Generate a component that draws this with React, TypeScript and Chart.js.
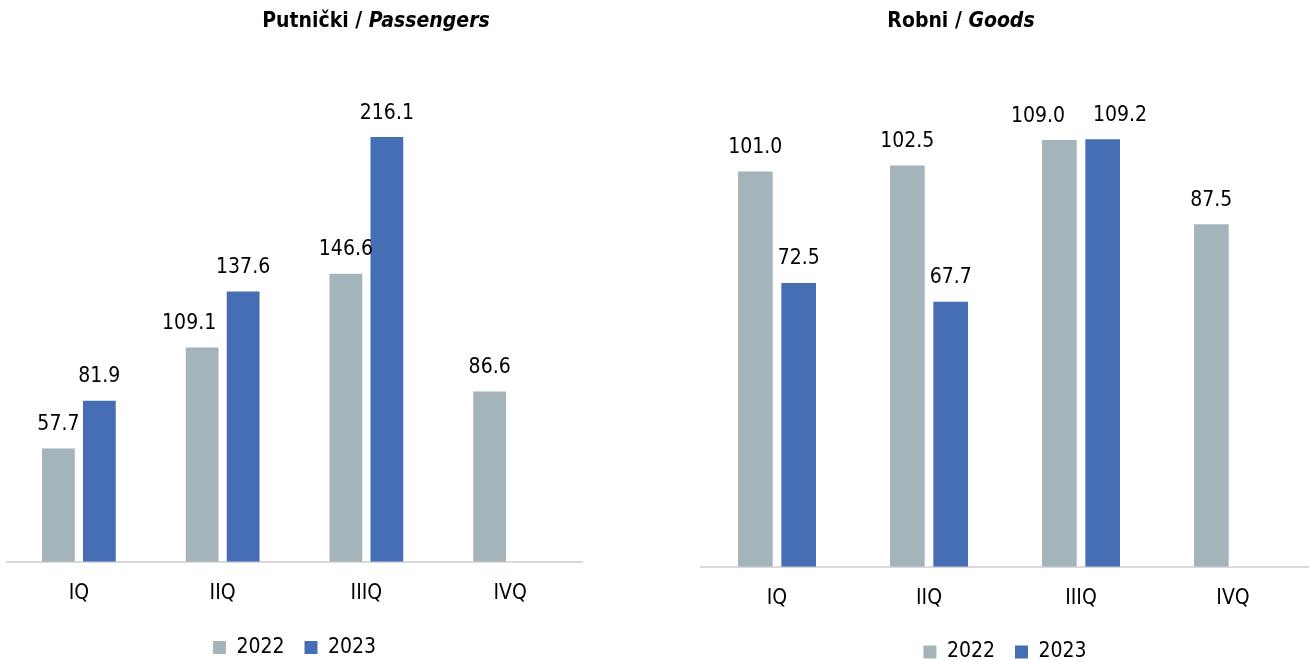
import React, { useEffect, useRef } from "react";
import { Chart, registerables } from "chart.js";

Chart.register(...registerables);

const categories = ["IQ", "IIQ", "IIIQ", "IVQ"];
const seriesNames = ["2022", "2023"];
const passengers2022 = [57.7, 109.1, 146.6, 86.6];
const passengers2023: (number | null)[] = [81.9, 137.6, 216.1, null];
const goods2022 = [101.0, 102.5, 109.0, 87.5];
const goods2023: (number | null)[] = [72.5, 67.7, 109.2, null];

const GRAY = "#A3B4BA";
const BLUE = "#466EB4";
const FONT = "'Liberation Sans Narrow', 'DejaVu Sans Condensed', 'Open Sans', sans-serif";
const CANVAS_H = 672;

// Horizontal label nudges (px) keyed "dataset-index", as placed in the original.
const passengerLabelNudge: Record<string, number> = { "0-1": -13 };
const goodsLabelNudge: Record<string, number> = {};

// Draws value labels above bars; when the two labels of one category
// collide, they are pushed apart horizontally.
const valueLabels = {
  id: "valueLabels",
  afterDatasetsDraw(chart: any, _args: any, opts: any) {
    const nudge: Record<string, number> = (opts && opts.nudge) || {};
    const ctx = chart.ctx;
    ctx.save();
    ctx.font = `21px ${FONT}`;
    ctx.fillStyle = "#000";
    ctx.textAlign = "center";
    ctx.textBaseline = "middle";
    const n = chart.data.labels.length;
    for (let j = 0; j < n; j++) {
      const items: { x: number; y: number; t: string; w: number }[] = [];
      chart.data.datasets.forEach((ds: any, i: number) => {
        const v = ds.data[j];
        if (v === null || v === undefined) return;
        const el = chart.getDatasetMeta(i).data[j];
        const t = Number(v).toFixed(1);
        items.push({ x: el.x + (nudge[`${i}-${j}`] || 0), y: el.y - 24, t, w: ctx.measureText(t).width });
      });
      if (items.length === 2) {
        const [a, b] = items;
        const vOverlap = Math.abs(a.y - b.y) < 22;
        const hOverlap = b.x - a.x < (a.w + b.w) / 2 + 4;
        if (vOverlap && hOverlap) {
          const mid = (a.x + b.x) / 2 - 2;
          const half = (a.w + b.w) / 4 + 14;
          a.x = mid - half;
          b.x = mid + half;
        }
      }
      items.forEach((it) => ctx.fillText(it.t, it.x, it.y));
    }
    ctx.restore();
  },
};

function Panel(props: {
  a: (number | null)[];
  b: (number | null)[];
  max: number;
  width: number;
  padding: { top: number; left: number; right: number; bottom: number };
  tickPad: number;
  extra: number;
  nudge: Record<string, number>;
}) {
  const ref = useRef<HTMLCanvasElement>(null);
  useEffect(() => {
    if (!ref.current) return;
    const chart = new Chart(ref.current, {
      type: "bar",
      data: {
        labels: categories,
        datasets: [
          { label: seriesNames[0], data: props.a, backgroundColor: GRAY },
          { label: seriesNames[1], data: props.b, backgroundColor: BLUE },
        ],
      },
      options: {
        animation: false,
        responsive: false,
        maintainAspectRatio: false,
        layout: { padding: props.padding },
        datasets: { bar: { barPercentage: 0.8, categoryPercentage: 0.57 } } as any,
        scales: {
          x: {
            grid: { display: false, drawTicks: false },
            border: { display: true, color: "#D9D9D9", width: 2 },
            ticks: { color: "#000", font: { size: 21, family: FONT }, padding: props.tickPad },
            afterFit: (scale: any) => {
              scale.height += props.extra;
            },
          },
          y: { display: false, min: 0, max: props.max },
        },
        plugins: {
          legend: {
            position: "bottom",
            labels: {
              color: "#000",
              font: { size: 21, family: FONT },
              boxWidth: 13,
              boxHeight: 13,
              padding: 20,
            },
          },
          tooltip: { enabled: false },
          title: { display: false },
          valueLabels: { nudge: props.nudge },
        } as any,
      },
      plugins: [valueLabels],
    });
    return () => chart.destroy();
  }, []);
  return (
    <canvas
      ref={ref}
      width={props.width}
      height={CANVAS_H}
      style={{ display: "block", width: props.width, height: CANVAS_H }}
    />
  );
}

const titleStyle: React.CSSProperties = {
  position: "absolute",
  top: 8,
  fontFamily: FONT,
  fontWeight: "bold",
  fontSize: 21,
  color: "#000",
  whiteSpace: "nowrap",
  transform: "translateX(-50%)",
};

export default function App() {
  return (
    <div style={{ position: "absolute", left: 0, top: 0, width: 1309, height: 662, background: "#fff", overflow: "hidden" }}>
      <div style={{ position: "absolute", left: 0, top: 0 }}>
        <Panel a={passengers2022} b={passengers2023} max={250} width={590}
          padding={{ top: 70.5, left: 7, right: 8, bottom: 4 }} tickPad={19} extra={-8}
          nudge={passengerLabelNudge} />
      </div>
      <div style={{ position: "absolute", left: 695, top: 0 }}>
        <Panel a={goods2022} b={goods2023} max={120} width={614}
          padding={{ top: 97, left: 6, right: 0, bottom: -0.5 }} tickPad={19} extra={-8.5}
          nudge={goodsLabelNudge} />
      </div>
      <div style={{ ...titleStyle, left: 376 }}>
        Putnički / <i>Passengers</i>
      </div>
      <div style={{ ...titleStyle, left: 961 }}>
        Robni / <i>Goods</i>
      </div>
    </div>
  );
}
